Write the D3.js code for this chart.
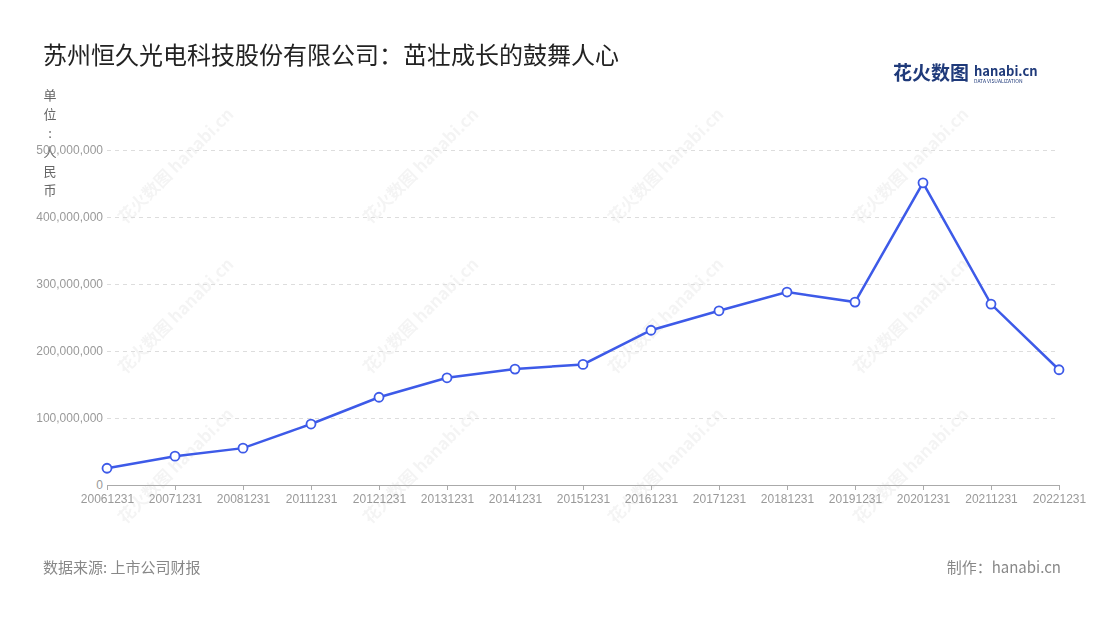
<!DOCTYPE html>
<html><head><meta charset="utf-8">
<script src="https://cdn.jsdelivr.net/npm/d3@7"></script>
<style>body{margin:0;background:#fff;font-family:"Noto Sans CJK SC","Noto Sans",sans-serif}</style>
</head><body><div id="chart"></div>
<script>
const years = ["20061231","20071231","20081231","20111231","20121231","20131231","20141231","20151231","20161231","20171231","20181231","20191231","20201231","20211231","20221231"];
const values = [25e6,43e6,55e6,91e6,131e6,160e6,173e6,180e6,231e6,260e6,288e6,273e6,451e6,270e6,172e6];
const yTicks = [0,1e8,2e8,3e8,4e8,5e8];

const W = 1100, H = 620;
const svg = d3.select("#chart").append("svg").attr("width", W).attr("height", H);
const x = d3.scalePoint().domain(years).range([107, 1059]);
const y = d3.scaleLinear().domain([0, 5e8]).range([485, 150]);

// watermarks
const wm = svg.append("g").attr("fill", "#000").attr("opacity", 0.045).attr("font-size", 17).attr("font-weight", "bold");
[[180,170],[425,170],[670,170],[915,170],[180,320],[425,320],[670,320],[915,320],[180,470],[425,470],[670,470],[915,470]].forEach(([a,b]) => {
  wm.append("text").attr("transform", `translate(${a},${b}) rotate(-45)`).attr("text-anchor","middle").text("花火数图 hanabi.cn");
});

svg.append("text").attr("x", 43).attr("y", 64).attr("font-size", 24).attr("fill", "#222").text("苏州恒久光电科技股份有限公司：茁壮成长的鼓舞人心");
svg.append("text").attr("x", 893).attr("y", 80).attr("font-size", 19).attr("font-weight", "bold").attr("fill", "#1f3a7a").text("花火数图");
svg.append("text").attr("x", 974).attr("y", 76).attr("font-size", 13).attr("font-weight", "bold").attr("fill", "#1f3a7a").text("hanabi.cn");
svg.append("text").attr("x", 974).attr("y", 83).attr("font-size", 5).attr("fill", "#1f3a7a").text("DATA VISUALIZATION");

// y unit label
"单位：人民币".split("").forEach((c, i) => {
  svg.append("text").attr("x", 50).attr("y", 100 + i * 19).attr("text-anchor", "middle").attr("font-size", 13).attr("fill", "#666").text(c === "：" ? ":" : c);
});

const yAxis = svg.append("g").attr("transform", "translate(107,0)")
  .call(d3.axisLeft(y).tickValues(yTicks).tickFormat(d3.format(",")).tickSize(-952).tickPadding(4));
yAxis.select(".domain").remove();
yAxis.selectAll("line").attr("stroke", "#ddd").attr("stroke-dasharray", "4,4").filter(d => d === 0).remove();
yAxis.selectAll("text").attr("fill", "#999").attr("font-size", 12);

const xAxis = svg.append("g").attr("transform", "translate(0,485)").call(d3.axisBottom(x).tickSize(5).tickPadding(4));
xAxis.select(".domain").attr("stroke", "#aaa");
xAxis.selectAll("line").attr("stroke", "#aaa");
xAxis.selectAll("text").attr("fill", "#999").attr("font-size", 12);

svg.append("path").datum(values).attr("fill", "none").attr("stroke", "#3d5ae8").attr("stroke-width", 2.5)
  .attr("d", d3.line().x((d, i) => x(years[i])).y(d => y(d)));
svg.selectAll("circle.p").data(values).enter().append("circle")
  .attr("cx", (d, i) => x(years[i])).attr("cy", d => y(d)).attr("r", 4.5)
  .attr("fill", "#fff").attr("stroke", "#3d5ae8").attr("stroke-width", 1.8);

svg.append("text").attr("x", 43).attr("y", 573).attr("font-size", 15).attr("fill", "#888").text("数据来源: 上市公司财报");
svg.append("text").attr("x", 1061).attr("y", 573).attr("text-anchor", "end").attr("font-size", 15).attr("fill", "#888").text("制作：hanabi.cn");
</script></body></html>
